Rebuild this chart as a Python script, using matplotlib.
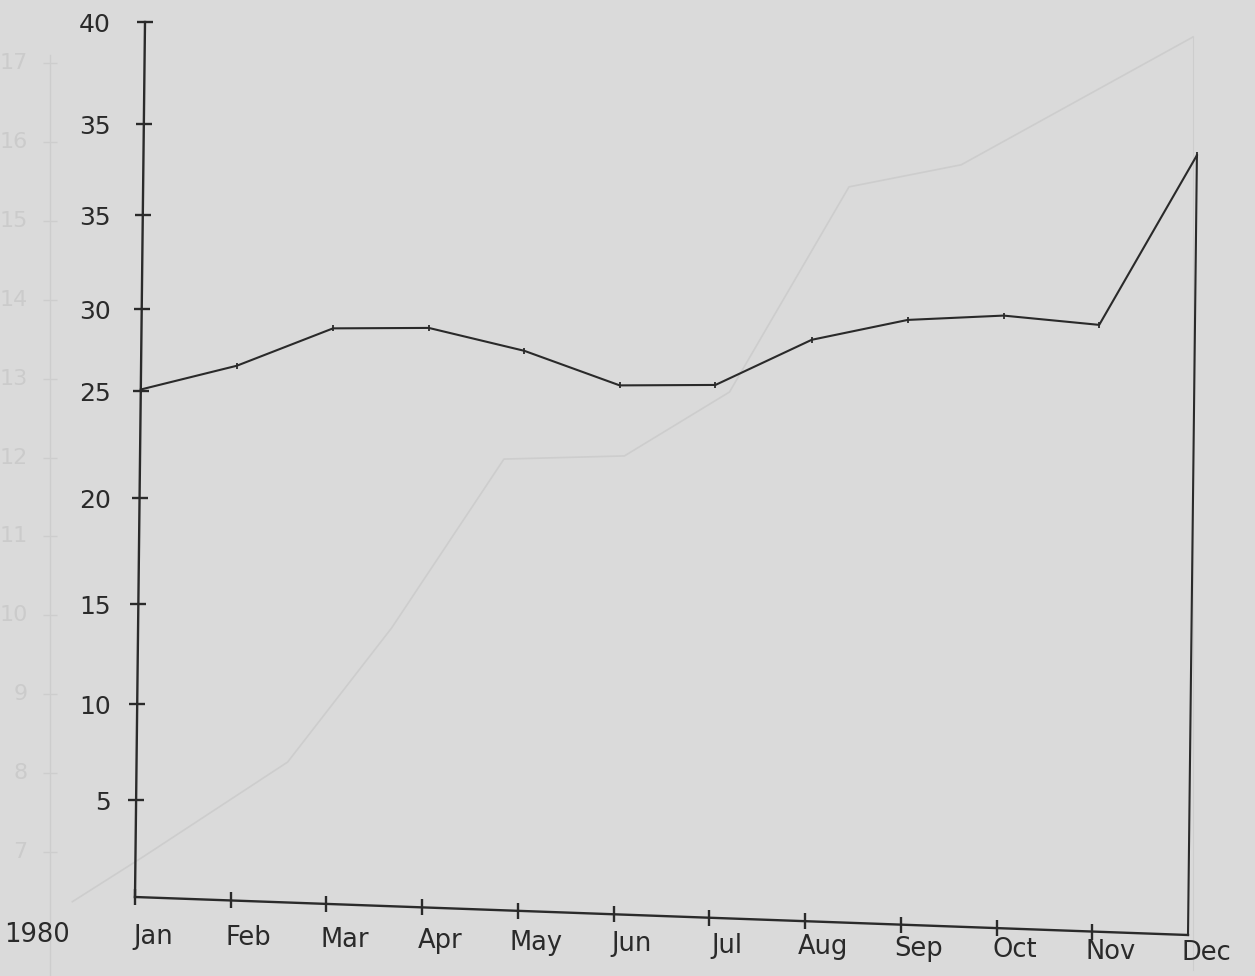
import numpy as np
import matplotlib
matplotlib.use("Agg")
import matplotlib.pyplot as plt
from matplotlib.transforms import Affine2D, offset_copy

# ---------------- data ----------------
MONTHS = ["Jan", "Feb", "Mar", "Apr", "May", "Jun",
          "Jul", "Aug", "Sep", "Oct", "Nov", "Dec"]
YEAR_LABEL = "1980"
# values in the units of the drawn (hand-spaced) vertical scale
VALUES = [26.1, 27.5, 29.6, 29.8, 28.8, 27.2, 27.4, 29.9, 31.1, 31.5, 31.2, 40.1]
# the printed y ticks (note the chart prints "35" twice)
Y_TICKS = [5.0, 9.95, 15.07, 20.52, 26.03, 30.25, 35.08, 39.76, 45.0]
Y_TICK_LABELS = ["5", "10", "15", "20", "25", "30", "35", "35", "40"]

# faint show-through of another chart on the paper
GHOST_X = [0.12, 0.82, 2.21, 3.22, 4.31, 5.48, 6.50, 7.66, 8.75, 11.0]
GHOST_Y = [6.37, 6.95, 8.14, 9.84, 11.98, 12.02, 12.83, 15.43, 15.71, 17.33]
GHOST_TICKS = [7, 8, 9, 10, 11, 12, 13, 14, 15, 16, 17]
GHOST_TICK_LABELS = [str(t) for t in GHOST_TICKS]

# ---------------- style ----------------
PAPER = "#dadada"
INK = "#2a2a2a"
GHOST = "#cdcdcd"
GHOST_TXT = "#cbcbcb"
plt.rcParams["font.family"] = ["DejaVu Sans"]

W, H = 1255, 976
fig = plt.figure(figsize=(W / 100, H / 100), dpi=100)
fig.patch.set_facecolor(PAPER)
ax = fig.add_axes([0, 0, 1, 1])
ax.set_xlim(0, W)
ax.set_ylim(H, 0)
ax.axis("off")

n = len(MONTHS)
ymax = Y_TICKS[-1]
# skewed frame of the scanned plot (origin, x-axis end, y-axis top in pixels)
ox, oy = 135, 897
ex, ey = 1188, 935
tx, ty = 145, 22
frame = Affine2D(np.array([[(ex - ox) / (n - 1), (tx - ox) / ymax, ox],
                           [(ey - oy) / (n - 1), (ty - oy) / ymax, oy],
                           [0, 0, 1]])) + ax.transData

# ---------------- ghost chart ----------------
ghost = Affine2D(np.array([[103.0, 0, 60],
                           [0, -78.9, 852 + 7 * 78.9],
                           [0, 0, 1]])) + ax.transData
ax.plot(GHOST_X, GHOST_Y, color=GHOST, lw=1.2, transform=ghost, zorder=1)
ax.plot([GHOST_X[-1], GHOST_X[-1]], [GHOST_Y[-1], 5.5], color=GHOST, lw=0.8,
        transform=ghost, zorder=1)
ax.plot([-0.1, -0.1], [5.0, 17.1], color=GHOST, lw=1.0, transform=ghost, zorder=1)
ax.plot([-0.1] * len(GHOST_TICKS), GHOST_TICKS, ls="none", marker="_", ms=10,
        mew=1.0, color=GHOST, transform=ghost, zorder=1)
gl = offset_copy(ghost, fig=fig, x=-22, y=0, units="dots")
for t, lab in zip(GHOST_TICKS, GHOST_TICK_LABELS):
    ax.text(-0.1, t, lab, transform=gl, ha="right", va="center",
            fontsize=16, color=GHOST_TXT, zorder=1)

# ---------------- main chart ----------------
lw = 1.5
# axes
ax.plot([0, n - 1], [0, 0], color=INK, lw=1.7, transform=frame, zorder=3)
ax.plot([0, 0], [0, ymax], color=INK, lw=1.7, transform=frame, zorder=3)
# ticks
ax.plot([0] * len(Y_TICKS), Y_TICKS, ls="none", marker="_", ms=12, mew=1.7,
        color=INK, transform=frame, zorder=3)
ax.plot(range(n - 1), [0] * (n - 1), ls="none", marker="|", ms=11, mew=1.7,
        color=INK, transform=frame, zorder=3)

# data line (with the plotter's small point marks) and drop line at the last month
ax.plot(range(n), VALUES, color=INK, lw=lw, transform=frame, zorder=4,
        solid_joinstyle="miter", marker="|", ms=4, mew=1.3)
ax.plot([n - 1, n - 1], [VALUES[-1], 0], color=INK, lw=lw, transform=frame, zorder=4)

# y tick labels (set in an upright column left of the axis)
ylab = Affine2D(np.array([[0, 0, 111],
                          [0, (ty - oy) / ymax, oy + 3],
                          [0, 0, 1]])) + ax.transData
for pos, lab in zip(Y_TICKS, Y_TICK_LABELS):
    ax.text(0, pos, lab, transform=ylab, ha="right", va="center",
            fontsize=18, color=INK, zorder=5)

# month labels along their own (slightly sloping) baseline
lab_tr = Affine2D(np.array([[(ex - ox) / (n - 1), 0, ox + 18],
                            [16.0 / (n - 1), 0, 937],
                            [0, 0, 1]])) + ax.transData
for i, m in enumerate(MONTHS):
    ax.text(i, 0, m, transform=lab_tr, ha="center", va="center",
            fontsize=18.5, color=INK, zorder=5)
ax.text(-1.21, 0, YEAR_LABEL, transform=lab_tr, ha="center", va="center",
        fontsize=18.5, color=INK, zorder=5)

fig.savefig("out.png", dpi=100, facecolor=PAPER)
